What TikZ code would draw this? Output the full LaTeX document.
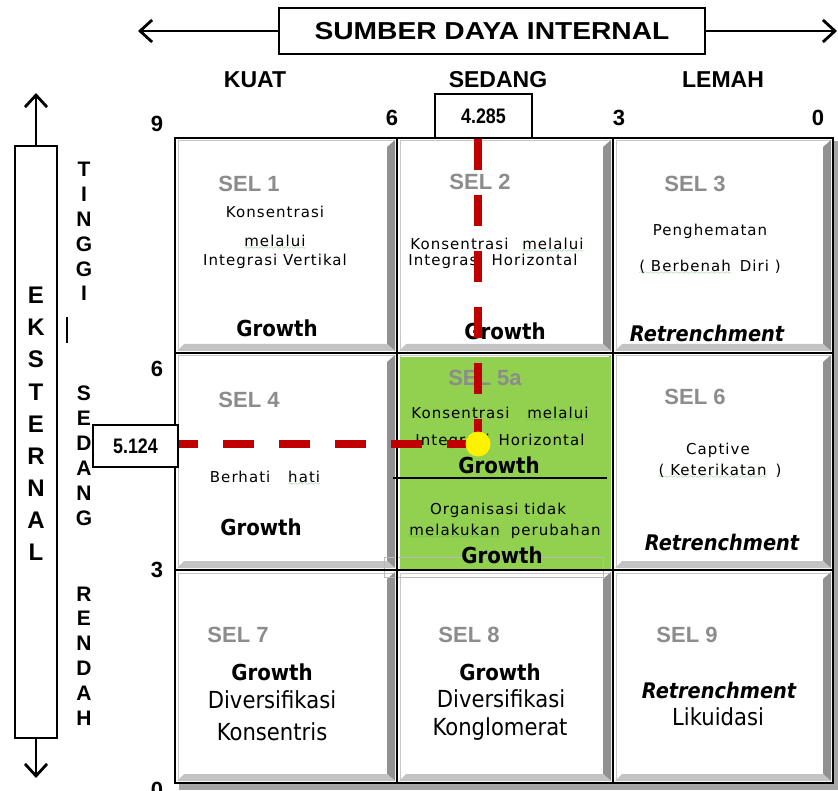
\documentclass[tikz,border=0pt]{standalone}
\usepackage{fontspec}
\usepackage{xcolor}
\usepackage{tikz}
\usetikzlibrary{arrows.meta}
\usetikzlibrary{calc}

\newfontfamily\arialfont{Liberation Sans}
\newfontfamily\widefont[FakeStretch=1.15]{Liberation Sans}
\newfontfamily\narrowfont[FakeStretch=0.85]{Liberation Sans}
\newfontfamily\tahomafont[FakeStretch=0.9]{DejaVu Sans}
\newfontfamily\tahomaspaced[LetterSpace=7]{DejaVu Sans}

\definecolor{selgray}{RGB}{140,140,140}
\definecolor{cellgreen}{RGB}{146,208,80}
\definecolor{dashred}{RGB}{192,0,0}
\definecolor{bevdark}{RGB}{145,145,145}
\definecolor{bevlight}{RGB}{195,195,195}
\definecolor{spellgreen}{RGB}{60,170,60}

\font\spellwave=lasy6
\newcommand\spell[1]{\setbox0\hbox{#1}\rlap{\lower3pt\hbox to\wd0{\color{spellgreen}\xleaders\hbox{\spellwave\char58}\hfill}}\box0}

\begin{document}
\begin{tikzpicture}[x=1pt,y=-1pt,
  hdrlbl/.style={font=\arialfont\bfseries\fontsize{23}{27}\selectfont,anchor=base,inner sep=0pt},
  numlbl/.style={font=\arialfont\bfseries\fontsize{22}{26}\selectfont,anchor=base,inner sep=0pt},
  valbox/.style={draw,line width=1.2pt,fill=white,inner sep=0pt,font=\narrowfont\bfseries\fontsize{21}{25}\selectfont},
  vletlbl/.style={font=\arialfont\bfseries\fontsize{21}{25}\selectfont,anchor=base,inner sep=0pt},
  eklbl/.style={font=\arialfont\bfseries\fontsize{24}{28}\selectfont,anchor=base,inner sep=0pt},
  sellbl/.style={font=\arialfont\bfseries\fontsize{22}{26}\selectfont,text=selgray,anchor=base,inner sep=0pt},
  txtlbl/.style={font=\tahomaspaced\fontsize{15}{18}\selectfont,anchor=base,inner sep=0pt},
  biglbl/.style={font=\tahomafont\fontsize{23.5}{28}\selectfont,anchor=base,inner sep=0pt},
  growlbl/.style={font=\tahomafont\bfseries\fontsize{22}{26}\selectfont,anchor=base,inner sep=0pt},
  retrlbl/.style={font=\tahomafont\bfseries\itshape\fontsize{21.5}{26}\selectfont,anchor=base,inner sep=0pt},
  redash/.style={dashred,line width=8pt,dash pattern=on 31pt off 25pt},
  axarrow/.style={line width=2.8pt,-{Straight Barb[length=12pt,width=22pt]}}]
\useasboundingbox (0,0) rectangle (838,791);

%% shadow and bevelled cells
\fill[gray!70] (179,141) rectangle (838,790);
\fill[white] (175,138) rectangle (833,783);
\foreach \xa/\xb in {175/397,397/613,613/833}
  \foreach \ya/\yb in {138/353,353/570,570/783}{
    \fill[bevdark] (\xb-2,\ya+2) -- (\xb-2,\yb-2) -- (\xb-10,\yb-9) -- (\xb-10,\ya+9) -- cycle;
    \fill[bevlight] (\xa+2,\yb-2) -- (\xb-2,\yb-2) -- (\xb-10,\yb-9) -- (\xa+9,\yb-9) -- cycle;
    \draw[gray!45,line width=1pt] (\xa+3,\yb-3) -- (\xa+3,\ya+3) -- (\xb-3,\ya+3);
  }
\fill[cellgreen] (400,357) rectangle (611,569);
\draw[gray!55,line width=0.7pt] (384,557) rectangle (603,577);
\draw[line width=1.2pt] (393,478) -- (607,478);
\draw[line width=1.3pt] (397,138) -- (397,783) (613,138) -- (613,783)
  (175,353) -- (833,353) (175,570) -- (833,570);
\draw[line width=2.5pt] (175,138) rectangle (833,783);

%% internal axis
\node[draw,line width=1.2pt,minimum width=426pt,minimum height=46pt,inner sep=0pt,
  font=\widefont\bfseries\fontsize{24.5}{28}\selectfont] (sdi) at (492,31) {SUMBER DAYA INTERNAL};
\coordinate (lt) at (138,31);
\coordinate (rt) at (837,31);
\draw[axarrow] (sdi.west) -- (lt);
\draw[axarrow] (sdi.east) -- (rt);
\node[hdrlbl] (kuat) at (255,88) {KUAT};
\node[hdrlbl] (sedang) at (498,88) {SEDANG};
\node[hdrlbl] (lemah) at (723,88) {LEMAH};
\foreach \x/\y/\t in {157/132/9, 392/126/6, 619/126/3, 818/126/0}
  \node[numlbl] (tn\t) at (\x,\y) {\t};
\foreach \y/\t in {377/6, 577/3, 797/0}
  \node[numlbl] (ln\t) at (157,\y) {\t};
\node[valbox,minimum width=97pt,minimum height=44pt] (v4) at (483.5,116) {4.285};
\node[valbox,minimum width=85pt,minimum height=42pt] (v5) at (135.5,446) {5.124};

%% external axis
\node[draw,line width=1.2pt,minimum width=42pt,minimum height=592pt,inner sep=0pt] (ekbox) at (36,442) {};
\coordinate (ut) at (36,93);
\coordinate (dt) at (36,778);
\draw[axarrow] (ekbox.north) -- (ut);
\draw[axarrow] (ekbox.south) -- (dt);
\foreach \l [count=\i] in {E,K,S,T,E,R,N,A,L}
  \node[eklbl] (ek\i) at (36,{304+32*(\i-1)}) {\l};
\foreach \l [count=\i] in {T,I,N,G,G,I}
  \node[vletlbl] (tg\i) at (84,{177+24.8*(\i-1)}) {\l};
\foreach \l [count=\i] in {S,E,D,A,N,G}
  \node[vletlbl] (sd\i) at (84,{401+24.8*(\i-1)}) {\l};
\foreach \l [count=\i] in {R,E,N,D,A,H}
  \node[vletlbl] (rd\i) at (84,{601+24.8*(\i-1)}) {\l};
\draw[line width=1.5pt] (67,317) -- (67,343);

%% cell texts
\node[sellbl] (s1) at (249,192) {SEL 1};
\node[txtlbl] (s1a) at (275,218) {Konsentrasi};
\node[txtlbl] (s1b) at (275,247) {\spell{melalui}};
\node[txtlbl] (s1c) at (275,266) {Integrasi Vertikal};
\node[growlbl] (s1d) at (277,337) {Growth};

\node[sellbl] (s2) at (480,190) {SEL 2};
\node[txtlbl] (s2a) at (497,250) {Konsentrasi\hspace{8pt} \spell{melalui}};
\node[txtlbl] (s2b) at (493,266) {Integrasi\hspace{3pt} Horizontal};
\node[growlbl] (s2c) at (505,340) {Growth};

\node[sellbl] (s3) at (695,192) {SEL 3};
\node[txtlbl] (s3a) at (710,236) {Penghematan};
\node[txtlbl] (s3b) at (710,272) {\spell{( Berbenah}\hspace{3pt} Diri )};
\node[retrlbl] (s3c) at (707,342) {Retrenchment};

\node[sellbl] (s4) at (249,407) {SEL 4};
\node[txtlbl] (s4a) at (265,482) {Berhati\hspace{12pt} \spell{hati}};
\node[growlbl] (s4b) at (261,535) {Growth};

\node[sellbl] (s5) at (485,385) {SEL 5a};
\node[txtlbl] (s5a) at (500,418) {Konsentrasi\hspace{12pt} \spell{melalui}};
\node[txtlbl] (s5b) at (500,446) {Integrasi\hspace{3pt} Horizontal};
\node[growlbl] (s5c) at (499,473) {Growth};
\node[txtlbl] (s5d) at (498,514) {Organisasi tidak};
\node[txtlbl] (s5e) at (505,535) {\spell{melakukan}\hspace{5pt} perubahan};
\node[growlbl] (s5f) at (502,563) {Growth};

\node[sellbl] (s6) at (695,405) {SEL 6};
\node[txtlbl] (s6a) at (718,454) {Captive};
\node[txtlbl] (s6b) at (720,475) {\spell{( Keterikatan}\hspace{3pt} )};
\node[retrlbl] (s6c) at (722,550) {Retrenchment};

\node[sellbl] (s7) at (238,642) {SEL 7};
\node[growlbl] (s7a) at (272,680) {Growth};
\node[biglbl] (s7b) at (272,708) {Diversifikasi};
\node[biglbl] (s7c) at (272,740) {Konsentris};

\node[sellbl] (s8) at (469,642) {SEL 8};
\node[growlbl] (s8a) at (500,680) {Growth};
\node[biglbl] (s8b) at (501,707) {Diversifikasi};
\node[biglbl] (s8c) at (500,735) {Konglomerat};

\node[sellbl] (s9) at (687,642) {SEL 9};
\node[retrlbl] (s9a) at (719,698) {Retrenchment};
\node[biglbl] (s9b) at (718,725) {Likuidasi};

%% position of the firm
\coordinate (dot) at (478,444);
\draw[redash] (v4.south -| dot) -- (dot);
\draw[redash] (dot) -- (dot -| v5.east);
\fill[yellow] (dot) circle (12.5pt);
\end{tikzpicture}
\end{document}
